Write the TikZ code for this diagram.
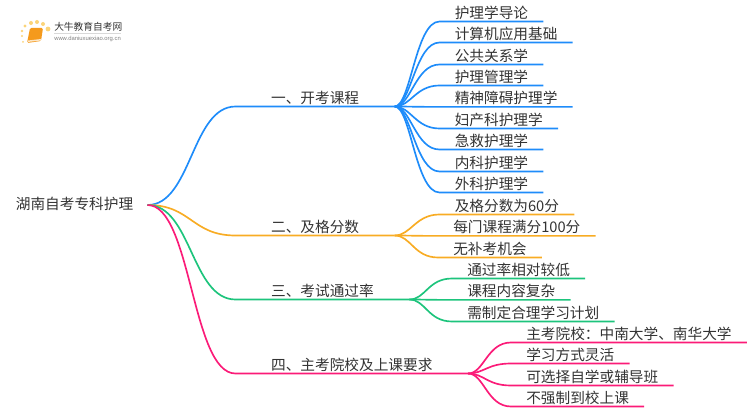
\documentclass[tikz,border=0pt]{standalone}
\usepackage{fontspec}
\setmainfont{Noto Sans CJK SC}
\newfontfamily\urlfont{Liberation Sans}
\usepackage{tikz}
\usetikzlibrary{arrows.meta, positioning, shapes.geometric}
\usepackage{xcolor}
\definecolor{mText}{HTML}{333333}
\definecolor{mBlue}{HTML}{1E8CFA}
\definecolor{mOrange}{HTML}{F8AC24}
\definecolor{mGreen}{HTML}{1DC47C}
\definecolor{mPink}{HTML}{FB1B78}
\definecolor{mBook}{HTML}{F59A1C}
\definecolor{mDot}{HTML}{FBD479}
\tikzset{
  label/.style={font=\fontsize{11pt}{13pt}\selectfont, text=mText, inner ysep=1pt, text height=9.5pt, text depth=1pt, anchor=south west},
  leaf/.style={label, inner xsep=11.25pt},
  branch/.style={label, inner xsep=26.5pt},
  twig/.style={out=0, in=180, out distance=12pt, in distance=18pt},
  trunk/.style={out=0, in=180, distance=33pt},
  wire/.style={line width=1.25pt}
}
\begin{document}
\begin{tikzpicture}[x=0.75pt, y=-0.75pt]
  \useasboundingbox (0,0) rectangle (750,410);
  % logo
  \foreach \px/\py/\pr in {25/26/1.7, 31/23/2, 37/22/2, 43/24/2, 48/29/2.4, 22/31/1.3, 22/36/1.2, 23/42/1}
    \fill[mDot] (\px,\py) circle[radius=\pr];
  \fill[mBook, rounded corners=1pt] (30,28) -- (43,28) -- (41,41) -- (27,43) -- cycle;
  \fill[white!75!mBook] (28,40.5) -- (41,39) -- (40.8,40.5) -- (27.8,42) -- cycle;
  \node[font=\fontsize{7.3pt}{9pt}\selectfont, text=mText, inner sep=0pt, anchor=west] (logoname) at (54,27) {大牛教育自考网};
  \node[font=\urlfont\fontsize{4.4pt}{5pt}\selectfont, text=gray, inner sep=0pt, anchor=west] (logourl) at (54,39) {www.daniuxuexiao.org.cn};
  \draw[black!15, line width=0.4pt] (logoname.south west |- 0,33) -- (logourl.east |- 0,33);

  % root and branches
  \node[font=\fontsize{11pt}{13pt}\selectfont, text=mText, inner xsep=10.5pt, text height=8pt, text depth=1pt, anchor=east] (root) at (147.5,205) {湖南自考专科护理};
  \node[branch] (open) at (235.5,106.5) {一、开考课程};
  \node[branch] (pass) at (235.5,235.5) {二、及格分数};
  \node[branch] (rate) at (235.5,299.5) {三、考试通过率};
  \node[branch] (school) at (235.5,373.5) {四、主考院校及上课要求};

  % leaves
  \node[leaf] (a1) at (439.5,21.5) {护理学导论};
  \node[leaf] (a2) at (439.5,42.5) {计算机应用基础};
  \node[leaf] (a3) at (439.5,64.5) {公共关系学};
  \node[leaf] (a4) at (439.5,85.5) {护理管理学};
  \node[leaf] (a5) at (439.5,106.9) {精神障碍护理学};
  \node[leaf] (a6) at (439.5,128.5) {妇产科护理学};
  \node[leaf] (a7) at (439.5,149.5) {急救护理学};
  \node[leaf] (a8) at (439.5,171.5) {内科护理学};
  \node[leaf] (a9) at (439.5,192.5) {外科护理学};
  \node[leaf] (b1) at (439.5,214.5) {及格分数为60分};
  \node[leaf] (b2) at (438,235.9) {每门课程满分100分};
  \node[leaf] (b3) at (438,257.5) {无补考机会};
  \node[leaf] (c1) at (452,278.5) {通过率相对较低};
  \node[leaf] (c2) at (452,299.9) {课程内容复杂};
  \node[leaf] (c3) at (452,321.5) {需制定合理学习计划};
  \node[leaf] (d1) at (511,342.5) {主考院校：中南大学、南华大学};
  \node[leaf] (d2) at (511,363.5) {学习方式灵活};
  \node[leaf] (d3) at (511,385.5) {可选择自学或辅导班};
  \node[leaf] (d4) at (511,406.5) {不强制到校上课};

  % connectors
  \draw[wire, mBlue] (root.east) to[trunk] (open.south west) -- (open.south east);
  \draw[wire, mBlue] (open.south east) to[twig] (a1.south west) -- (a1.south east);
  \draw[wire, mBlue] (open.south east) to[twig] (a2.south west) -- (a2.south east);
  \draw[wire, mBlue] (open.south east) to[twig] (a3.south west) -- (a3.south east);
  \draw[wire, mBlue] (open.south east) to[twig] (a4.south west) -- (a4.south east);
  \draw[wire, mBlue] (open.south east) to[twig] (a5.south west) -- (a5.south east);
  \draw[wire, mBlue] (open.south east) to[twig] (a6.south west) -- (a6.south east);
  \draw[wire, mBlue] (open.south east) to[twig] (a7.south west) -- (a7.south east);
  \draw[wire, mBlue] (open.south east) to[twig] (a8.south west) -- (a8.south east);
  \draw[wire, mBlue] (open.south east) to[twig] (a9.south west) -- (a9.south east);
  \draw[wire, mOrange] (root.east) to[trunk] (pass.south west) -- (pass.south east);
  \draw[wire, mOrange] (pass.south east) to[twig] (b1.south west) -- (b1.south east);
  \draw[wire, mOrange] (pass.south east) to[twig] (b2.south west) -- (b2.south east);
  \draw[wire, mOrange] (pass.south east) to[twig] (b3.south west) -- (b3.south east);
  \draw[wire, mGreen] (root.east) to[trunk] (rate.south west) -- (rate.south east);
  \draw[wire, mGreen] (rate.south east) to[twig] (c1.south west) -- (c1.south east);
  \draw[wire, mGreen] (rate.south east) to[twig] (c2.south west) -- (c2.south east);
  \draw[wire, mGreen] (rate.south east) to[twig] (c3.south west) -- (c3.south east);
  \draw[wire, mPink] (root.east) to[trunk] (school.south west) -- (school.south east);
  \draw[wire, mPink] (school.south east) to[twig] (d1.south west) -- (d1.south east);
  \draw[wire, mPink] (school.south east) to[twig] (d2.south west) -- (d2.south east);
  \draw[wire, mPink] (school.south east) to[twig] (d3.south west) -- (d3.south east);
  \draw[wire, mPink] (school.south east) to[twig] (d4.south west) -- (d4.south east);
\end{tikzpicture}
\end{document}
